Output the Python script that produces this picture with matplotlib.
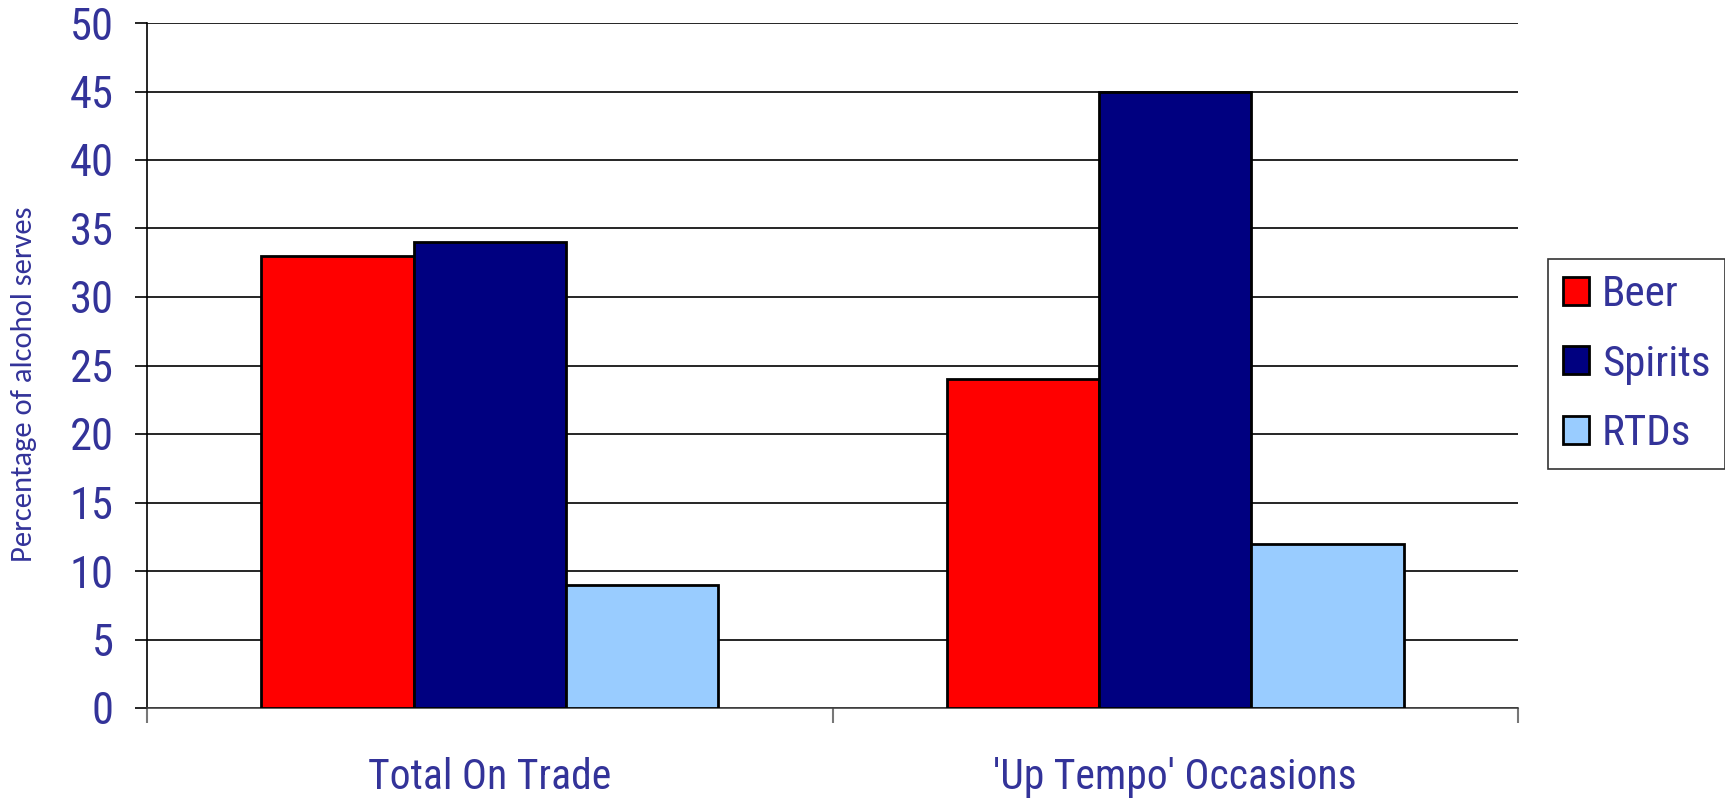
import numpy as np
import matplotlib
matplotlib.use('Agg')
import matplotlib.pyplot as plt
from matplotlib.patches import Patch

# Share of alcohol serves by drink type
categories = ['Total On Trade', "'Up Tempo' Occasions"]
series = ['Beer', 'Spirits', 'RTDs']
beer = [33, 24]
spirits = [34, 45]
rtds = [9, 12]
colors = ['#ff0000', '#000080', '#99ccff']
yticks = [0, 5, 10, 15, 20, 25, 30, 35, 40, 45, 50]

text_color = '#333399'
narrow = ['Roboto Condensed', 'Liberation Sans', 'DejaVu Sans']

fig = plt.figure(figsize=(17.25, 8), dpi=100)
ax = fig.add_axes([147/1725, 1 - 708/800, (1518 - 147)/1725, (708 - 23)/800])

x = np.arange(len(categories))
width = 0.222
for i, (vals, col) in enumerate(zip([beer, spirits, rtds], colors)):
    ax.bar(x + (i - 1)*width, vals, width, color=col, edgecolor='black',
           linewidth=2, zorder=3)

ax.set_xlim(-0.5, 1.5)
ax.set_ylim(0, 50)
ax.set_yticks(yticks)
ax.yaxis.grid(True, color='black', linewidth=1.2, zorder=0)
ax.spines['top'].set_visible(False)
ax.spines['right'].set_visible(False)
ax.spines['left'].set_linewidth(1.2)
ax.spines['bottom'].set_linewidth(1.2)
ax.spines['bottom'].set_color('#444444')

# category boundaries get the tick marks, names sit between them
ax.set_xticks([-0.5, 0.5, 1.5])
ax.set_xticklabels([])
ax.set_xticks(x, minor=True)
ax.set_xticklabels(categories, minor=True, fontsize=30, color=text_color, family=narrow)
ax.tick_params(axis='x', which='major', length=11, width=1.5, color='#777777', direction='out')
ax.tick_params(axis='x', which='minor', length=0, pad=35)
ax.tick_params(axis='y', length=9, width=1.2, pad=15, labelsize=32, labelcolor=text_color)
for lab in ax.get_yticklabels():
    lab.set_family(narrow)

fig.text(24/1725, 1 - 384/800, 'Percentage of alcohol serves', rotation=90,
         ha='center', va='center', fontsize=22, color=text_color,
         family=['Carlito', 'DejaVu Sans'])

handles = [Patch(facecolor=c, edgecolor='black', linewidth=2) for c in colors]
leg = fig.legend(handles, series, loc='center left',
                 bbox_to_anchor=(1548/1725, 1 - 364/800),
                 prop={'family': narrow, 'size': 31}, labelcolor=text_color,
                 frameon=True, fancybox=False, edgecolor='black',
                 handlelength=0.6, handleheight=0.62, handletextpad=0.3,
                 labelspacing=0.66, borderpad=0.35, borderaxespad=0)
leg.get_frame().set_linewidth(1.2)

fig.savefig('out.png', dpi=100)
